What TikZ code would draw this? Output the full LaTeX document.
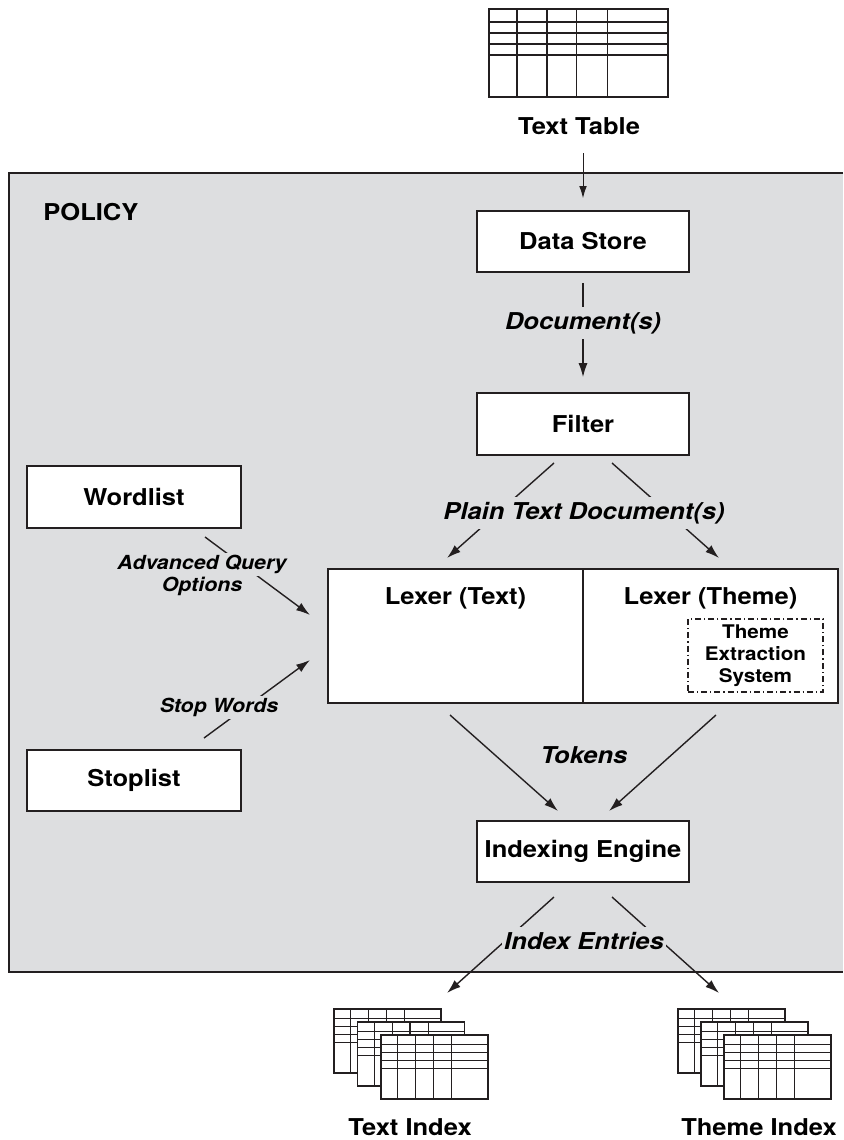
\documentclass[tikz,border=0pt]{standalone}
\usepackage{fontspec}
\setmainfont{TeX Gyre Heros}[FakeStretch=1.1]
\usepackage{xcolor}
\definecolor{policygray}{RGB}{221,222,224}
\definecolor{inkblack}{RGB}{35,31,32}
\usepackage{tikz}
\usetikzlibrary{arrows.meta,calc}

\newcommand{\boxfont}{\fontsize{11.6pt}{13pt}\selectfont\bfseries}
\newcommand{\flowfont}{\fontsize{11.6pt}{13pt}\selectfont\bfseries\itshape}
\newcommand{\smallflowfont}{\fontsize{9.7pt}{11pt}\selectfont\bfseries\itshape}
\newcommand{\tesfont}{\fontsize{9.4pt}{11pt}\selectfont\bfseries}

% table sheet: #1 top left corner, #2 width, #3 height
\newcommand{\gridsheet}[3]{%
  \fill[white] (#1) rectangle ++(#2,#3);
  \foreach \gx in {0.156,0.324,0.49,0.662}
    \draw[sheet] ($(#1)+(\gx*#2,0)$) -- ++(0,#3);
  \foreach \gy in {0.148,0.273,0.398,0.523}
    \draw[sheet] ($(#1)+(0,\gy*#3)$) -- ++(#2,0);
  \draw[sheet] (#1) rectangle ++(#2,#3);
}

\begin{document}
\begin{tikzpicture}[x=0.5pt,y=-0.5pt,
    box/.style={draw=inkblack, fill=white, line width=0.8pt, inner sep=0pt, font=\boxfont},
    lexbox/.style={box, minimum width=127.5pt, text height=17.5pt, text depth=49.5pt},
    flowlabel/.style={fill=policygray, font=\flowfont, inner xsep=1pt, inner ysep=2.5pt,
      text height=8.5pt, text depth=2.5pt},
    smalllabel/.style={fill=policygray, font=\smallflowfont, inner xsep=1pt, inner ysep=1.25pt,
      text height=7pt, text depth=2pt},
    sheet/.style={draw=inkblack, line width=0.65pt},
    arr/.style={draw=inkblack, line width=0.7pt, -{Latex[length=7pt,width=4.5pt]}},
    thinarr/.style={draw=inkblack, line width=0.5pt, -{Latex[length=6pt,width=3.8pt]}}]
  \useasboundingbox (0,0) rectangle (843,1140);
  % Policy area
  \fill[policygray] (9,173) rectangle (843,972);
  \draw[line width=0.65pt, inkblack] (843,173) -- (9,173) -- (9,972) -- (843,972);
  \node[anchor=west, font=\boxfont, inner sep=0pt] (policy) at (43,212) {POLICY};
  % Text table
  \gridsheet{489,9}{179}{88}
  \node[font=\boxfont] (ttlabel) at (579,126) {Text Table};
  % Boxes
  \node[box, minimum width=106pt, minimum height=30.5pt] (datastore) at (583,241.5) {Data Store};
  \node[box, minimum width=106pt, minimum height=31pt] (filter) at (583,424) {Filter};
  \node[box, minimum width=107pt, minimum height=31pt] (wordlist) at (134,497) {Wordlist};
  \node[box, minimum width=107pt, minimum height=30.5pt] (stoplist) at (134,780.5) {Stoplist};
  \node[lexbox] (lextext) at (455.5,636) {Lexer (Text)};
  \node[lexbox] (lextheme) at (710.5,636) {Lexer (Theme)};
  \node[draw=inkblack, line width=0.6pt, dash pattern=on 3pt off 1.5pt on 0.6pt off 1.5pt,
    minimum width=67.5pt, minimum height=36.5pt, inner sep=0pt, align=center, font=\tesfont]
    (tes) at (755.5,655.5) {Theme\\Extraction\\System};
  \node[box, minimum width=106pt, minimum height=30.5pt] (engine) at (583,851.5) {Indexing Engine};
  % Free ends of the connectors
  \coordinate (tt-out) at (583,153);
  \coordinate (f-left) at (554,463);
  \coordinate (f-right) at (612,463);
  \coordinate (lt-in) at (447,558);
  \coordinate (lth-in) at (719,558);
  \coordinate (wl-out) at (205,537);
  \coordinate (wl-in) at (310,615);
  \coordinate (sl-out) at (204,738);
  \coordinate (sl-in) at (310,660);
  \coordinate (lt-out) at (450,715);
  \coordinate (lth-out) at (716,715);
  \coordinate (ie-left) at (558,811);
  \coordinate (ie-right) at (609,811);
  \coordinate (ie-out1) at (554,897);
  \coordinate (ie-out2) at (612,897);
  \coordinate (ti-in) at (447,993);
  \coordinate (thi-in) at (719,993);
  % Connectors
  \draw[thinarr, shorten >=6pt] (tt-out) -- (datastore);
  \draw[arr, shorten <=5pt, shorten >=7.5pt] (datastore) -- (filter);
  \draw[arr] (f-left) -- (lt-in);
  \draw[arr] (f-right) -- (lth-in);
  \draw[arr] (wl-out) -- (wl-in);
  \draw[arr] (sl-out) -- (sl-in);
  \draw[arr] (lt-out) -- (ie-left);
  \draw[arr] (lth-out) -- (ie-right);
  \draw[arr] (ie-out1) -- (ti-in);
  \draw[arr] (ie-out2) -- (thi-in);
  % Labels
  \node[flowlabel] (docs) at (583,323) {Document(s)};
  \node[flowlabel] (plaindocs) at (584,513) {Plain Text Document(s)};
  \node[smalllabel] (advq) at (202,564) {Advanced Query};
  \node[font=\smallflowfont, inner sep=0pt] (advopt) at (202,586) {Options};
  \node[smalllabel] (stopw) at (219,707) {Stop Words};
  \node[font=\flowfont] (tokens) at (584,755) {Tokens};
  \node[flowlabel] (entries) at (584,943) {Index Entries};
  % Index tables
  \gridsheet{334,1009}{107}{64}
  \gridsheet{357.5,1022}{107}{64}
  \gridsheet{381,1035}{107}{64}
  \node[font=\boxfont, inner sep=0pt] (textidx) at (410,1127) {Text Index};
  \gridsheet{678,1009}{107}{64}
  \gridsheet{701,1022}{107}{64}
  \gridsheet{724,1035}{107}{64}
  \node[font=\boxfont, inner sep=0pt] (themeidx) at (759,1127) {Theme Index};
\end{tikzpicture}
\end{document}
